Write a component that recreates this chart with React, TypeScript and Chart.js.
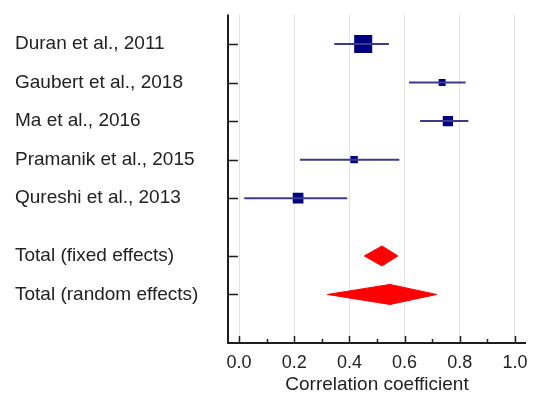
import React, { useEffect, useRef } from "react";
import { Chart, registerables } from "chart.js";

Chart.register(...registerables);

const studies = [
  "Duran et al., 2011",
  "Gaubert et al., 2018",
  "Ma et al., 2016",
  "Pramanik et al., 2015",
  "Qureshi et al., 2013",
];
const estimates = [0.45, 0.736, 0.757, 0.417, 0.214];
const lowerCI = [0.345, 0.616, 0.656, 0.221, 0.019];
const upperCI = [0.543, 0.821, 0.831, 0.581, 0.392];
const weights = [50, 7.5, 16.3, 8.6, 17.6];

const pooledLabels = ["Total (fixed effects)", "Total (random effects)"];
const pooledEstimates = [0.518, 0.547];
const pooledLower = [0.454, 0.32];
const pooledUpper = [0.576, 0.716];

const xTickValues = [0, 0.2, 0.4, 0.6, 0.8, 1.0];
const xTickLabels = ["0.0", "0.2", "0.4", "0.6", "0.8", "1.0"];
const xMinorValues = [0.1, 0.3, 0.5, 0.7, 0.9];
const xTitle = "Correlation coefficient";

const FONT = "'Liberation Sans', Arial, Helvetica, sans-serif";
const TEXT = "#222222";
const AXIS = "#1e1e1e";

export default function App() {
  const ref = useRef<HTMLCanvasElement | null>(null);

  useEffect(() => {
    const canvas = ref.current;
    if (!canvas) return;

    const studyRows = studies.map((_, i) => i);
    const pooledRows = pooledLabels.map((_, i) => studies.length + 0.5 + i);
    const rowPositions = [...studyRows, ...pooledRows];
    const rowLabels = [...studies, ...pooledLabels];

    const datasets: any[] = [];
    studies.forEach((_, i) => {
      datasets.push({
        data: [
          { x: lowerCI[i], y: studyRows[i] },
          { x: upperCI[i], y: studyRows[i] },
        ],
        showLine: true,
        borderColor: "#3b3b8e",
        borderWidth: 2,
        pointRadius: 0,
        fill: false,
      });
    });
    datasets.push({
      data: studies.map((_, i) => ({ x: estimates[i], y: studyRows[i] })),
      showLine: false,
      pointStyle: "rect",
      pointRadius: weights.map((w) => (2.55 * Math.sqrt(w)) / Math.SQRT2),
      backgroundColor: "#000080",
      borderColor: "#000080",
      borderWidth: 0,
    });
    const halfH = 0.26;
    pooledLabels.forEach((_, i) => {
      const r = pooledRows[i];
      datasets.push({
        data: [
          { x: pooledLower[i], y: r },
          { x: pooledEstimates[i], y: r - halfH },
          { x: pooledUpper[i], y: r },
          { x: pooledEstimates[i], y: r + halfH },
          { x: pooledLower[i], y: r },
        ],
        showLine: true,
        fill: "shape",
        backgroundColor: "#ff0000",
        borderColor: "#ff0000",
        borderWidth: 1,
        pointRadius: 0,
        tension: 0,
      });
    });

    const axesPlugin = {
      id: "forestAxes",
      afterDraw(chart: any) {
        const { ctx, chartArea, scales } = chart;
        const xs = scales.x;
        const ys = scales.y;
        ctx.save();
        ctx.strokeStyle = AXIS;
        ctx.lineWidth = 2;
        ctx.beginPath();
        ctx.moveTo(chartArea.left, chartArea.top);
        ctx.lineTo(chartArea.left, chartArea.bottom);
        ctx.lineTo(chartArea.right, chartArea.bottom);
        ctx.stroke();
        ctx.lineWidth = 1.5;
        ctx.beginPath();
        rowPositions.forEach((r) => {
          const y = Math.round(ys.getPixelForValue(r)) + 0.5;
          ctx.moveTo(chartArea.left, y);
          ctx.lineTo(chartArea.left + 10, y);
        });
        xTickValues.forEach((v) => {
          const x = Math.round(xs.getPixelForValue(v)) + 0.5;
          ctx.moveTo(x, chartArea.bottom);
          ctx.lineTo(x, chartArea.bottom - 7);
        });
        xMinorValues.forEach((v) => {
          const x = Math.round(xs.getPixelForValue(v)) + 0.5;
          ctx.moveTo(x, chartArea.bottom);
          ctx.lineTo(x, chartArea.bottom - 4);
        });
        ctx.stroke();
        ctx.fillStyle = TEXT;
        ctx.font = `18px ${FONT}`;
        ctx.textAlign = "center";
        ctx.textBaseline = "middle";
        xTickValues.forEach((v, i) => {
          ctx.fillText(xTickLabels[i], xs.getPixelForValue(v), chartArea.bottom + 20);
        });
        ctx.restore();
      },
    };

    const chart = new Chart(canvas, {
      type: "scatter",
      data: { datasets },
      options: {
        animation: false,
        responsive: false,
        devicePixelRatio: 1,
        layout: { autoPadding: false, padding: { left: 15, top: 13, right: 7, bottom: 0 } },
        plugins: {
          legend: { display: false },
          tooltip: { enabled: false },
        },
        scales: {
          x: {
            type: "linear",
            min: -0.04,
            max: 1.04,
            afterBuildTicks: (s: any) => {
              s.ticks = xTickValues.map((v) => ({ value: v }));
            },
            afterFit: (s: any) => {
              s.height = 56;
            },
            grid: {
              display: true,
              color: "#e4e4e4",
              lineWidth: 1,
              drawTicks: false,
            },
            border: { display: false },
            ticks: { display: false },
            title: {
              display: true,
              text: xTitle,
              color: TEXT,
              font: { family: FONT, size: 19 },
              padding: { top: 0, bottom: 3 },
            },
          },
          y: {
            type: "linear",
            reverse: true,
            min: -0.77,
            max: 7.76,
            afterBuildTicks: (s: any) => {
              s.ticks = rowPositions.map((v) => ({ value: v }));
            },
            afterFit: (s: any) => {
              s.width = 213;
            },
            grid: { display: false, drawTicks: false },
            border: { display: false },
            ticks: {
              color: TEXT,
              font: { family: FONT, size: 19 },
              crossAlign: "far",
              autoSkip: false,
              callback: (_v: any, i: number) => rowLabels[i],
            },
          },
        },
      },
      plugins: [axesPlugin],
    });

    return () => chart.destroy();
  }, []);

  return (
    <div style={{ position: "fixed", left: 0, top: 0, width: 533, height: 399, background: "#fff" }}>
      <canvas ref={ref} width={533} height={399} style={{ width: 533, height: 399 }} />
    </div>
  );
}
